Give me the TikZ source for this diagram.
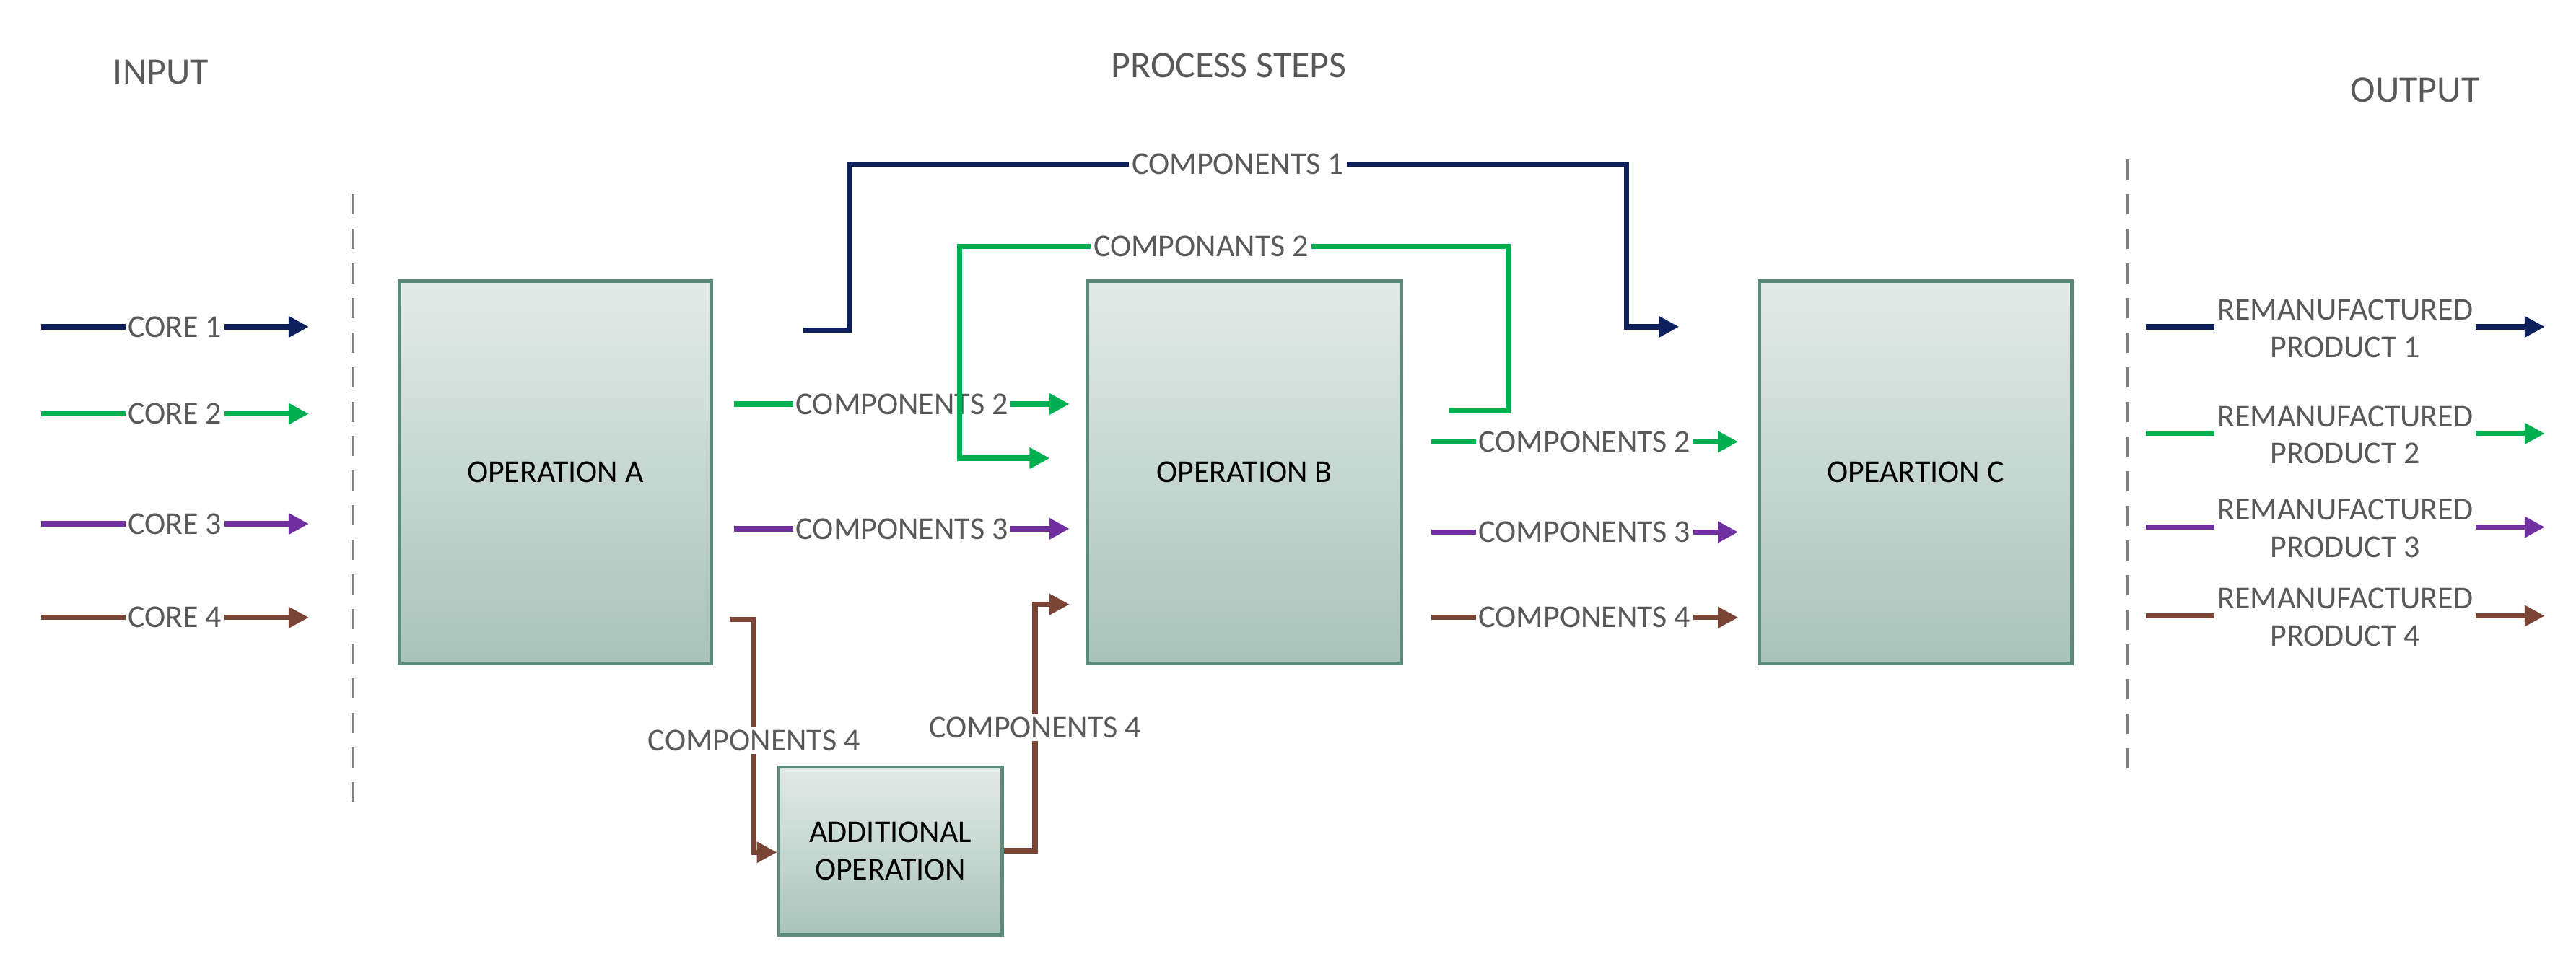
\documentclass[tikz,border=0pt]{standalone}
\usepackage{fontspec}
\setmainfont{Carlito}
\usetikzlibrary{arrows.meta}
\definecolor{navy}{HTML}{0D1F5C}
\definecolor{grn}{HTML}{00B050}
\definecolor{pur}{HTML}{7030A0}
\definecolor{brn}{HTML}{7B4536}
\definecolor{txt}{HTML}{595959}
\definecolor{boxtop}{HTML}{E4EAE8}
\definecolor{boxbot}{HTML}{A8C3BA}
\definecolor{boxline}{HTML}{5E8A7A}
\begin{document}
\begin{tikzpicture}[x=0.02cm,y=-0.02cm,
  box/.style={draw=boxline,line width=1.2pt,top color=boxtop,bottom color=boxbot,align=center,font=\fontsize{11}{13}\selectfont},
  flow/.style={line width=1.8pt,-{Triangle[length=7pt,width=7pt]}},
  lbl/.style={fill=white,text=txt,inner sep=1pt,font=\fontsize{11}{13}\selectfont,align=center},
  head/.style={text=txt,font=\fontsize{13}{15}\selectfont},
  sep/.style={dashed,draw=gray,line width=1pt,dash pattern=on 7pt off 5pt}]
\useasboundingbox (0,0) rectangle (1568,590);
\node[head] (hin) at (98,44) {INPUT};
\node[head] (hps) at (748,40) {PROCESS STEPS};
\node[head] (hout) at (1470,55) {OUTPUT};
\draw[sep] (215,118) -- (215,488);
\draw[sep] (1295,97) -- (1295,470);
\node[box,minimum width=190*0.02cm,minimum height=233*0.02cm] (A) at (338,287.5) {OPERATION A};
\node[box,minimum width=191*0.02cm,minimum height=233*0.02cm] (B) at (757.5,287.5) {OPERATION B};
\node[box,minimum width=190*0.02cm,minimum height=233*0.02cm] (C) at (1166,287.5) {OPEARTION C};
\node[box,minimum width=136*0.02cm,minimum height=102*0.02cm] (D) at (542,518) {ADDITIONAL\\OPERATION};
% inputs
\foreach \n/\y/\c in {1/199/navy,2/252/grn,3/319/pur,4/376/brn}{
  \coordinate (i\n s) at (25,\y); \coordinate (i\n e) at (188,\y);
  \draw[flow,\c] (i\n s) -- node[lbl] (il\n) {CORE \n} (i\n e);
}
% outputs
\foreach \n/\y/\c in {1/199/navy,2/264/grn,3/321/pur,4/375/brn}{
  \coordinate (o\n s) at (1306,\y); \coordinate (o\n e) at (1549,\y);
  \draw[flow,\c] (o\n s) -- node[lbl,yshift=-0.5pt] (ol\n) {REMANUFACTURED\\PRODUCT \n} (o\n e);
}
% A -> B
\coordinate (a2s) at (447,246); \coordinate (a2e) at (651,246);
\draw[flow,grn] (a2s) -- node[lbl] (la2) {COMPONENTS 2} (a2e);
\coordinate (a3s) at (447,322); \coordinate (a3e) at (651,322);
\draw[flow,pur] (a3s) -- node[lbl] (la3) {COMPONENTS 3} (a3e);
% components 1
\coordinate (c1s) at (489,201); \coordinate (c1e) at (1022,199);
\draw[flow,navy] (c1s) -- (517,201) -- (517,100) -- node[lbl,pos=0.5] (lc1) {COMPONENTS 1} (990,100) -- (990,199) -- (c1e);
% componants 2
\coordinate (k2s) at (882,250); \coordinate (k2e) at (639,279);
\draw[flow,grn] (k2s) -- (918,250) -- (918,150) -- node[lbl,pos=0.56] (lk2) {COMPONANTS 2} (584,150) -- (584,279) -- (k2e);
% components 4 via additional op
\coordinate (d4s) at (444,377);
\draw[flow,brn] (d4s) -- (459,377) -- node[lbl,pos=0.52] (ld4a) {COMPONENTS 4} (459,519) -- (D.west |- 0,519);
\coordinate (d4e) at (651,368);
\draw[flow,brn] (D.east |- 0,518) -- (630,518) -- node[lbl,pos=0.5] (ld4b) {COMPONENTS 4} (630,368) -- (d4e);
% B -> C
\foreach \n/\y/\c in {2/269/grn,3/324/pur,4/376/brn}{
  \coordinate (b\n s) at (871,\y); \coordinate (b\n e) at (1058,\y);
  \draw[flow,\c] (b\n s) -- node[lbl] (lb\n) {COMPONENTS \n} (b\n e);
}
\end{tikzpicture}
\end{document}
